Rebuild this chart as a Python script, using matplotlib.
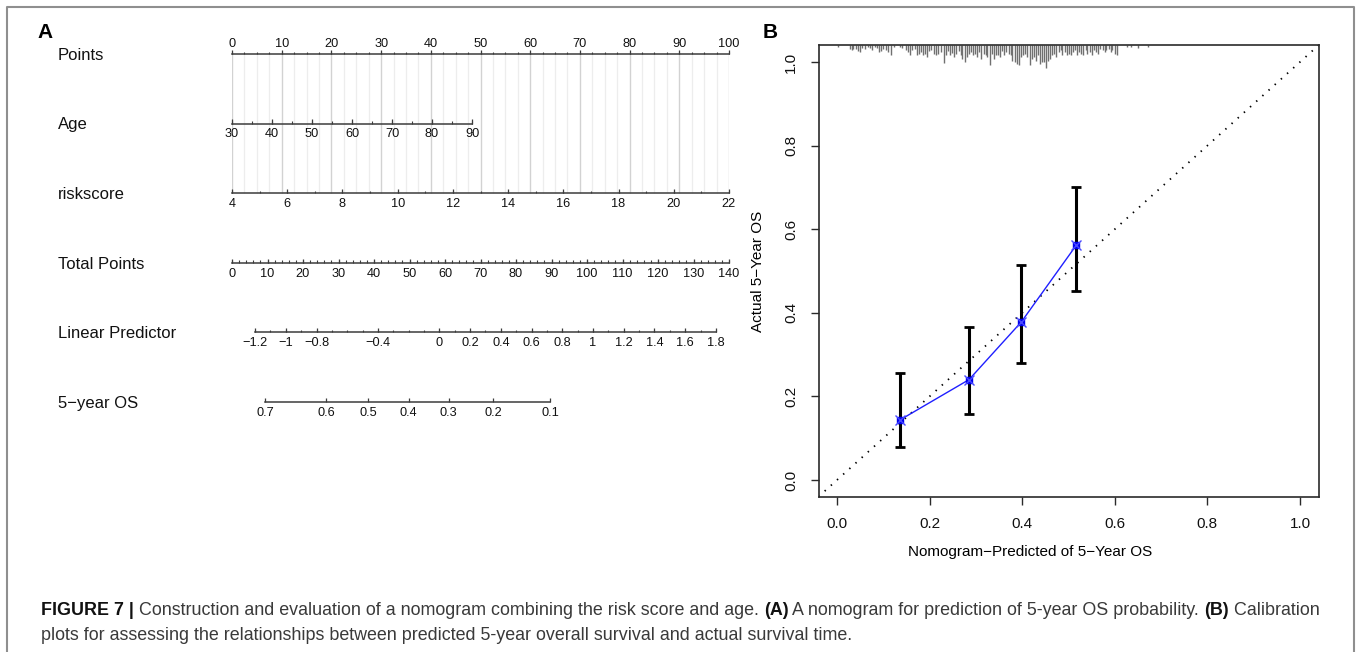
"""Nomogram (A) and 5-year OS calibration plot (B), Figure 7."""
import numpy as np
import matplotlib
matplotlib.use('Agg')
import matplotlib.pyplot as plt
from matplotlib import transforms
from matplotlib.lines import Line2D

plt.rcParams['font.family'] = ['Liberation Sans', 'DejaVu Sans']

W, H = 1360, 652
OUT_PNG = 'out.png'

# ---- panel A: nomogram scales ----
ROW_NAMES = ['Points', 'Age', 'riskscore', 'Total Points', 'Linear Predictor', '5\u2212year OS']
POINTS_TICKS = [0, 10, 20, 30, 40, 50, 60, 70, 80, 90, 100]
AGE_TICKS = [30, 40, 50, 60, 70, 80, 90]
AGE_RANGE = (30, 90)
AGE_MAX_POINTS = 48.3            # points for age 90 (age 30 -> 0)
RISK_TICKS = [4, 6, 8, 10, 12, 14, 16, 18, 20, 22]
RISK_RANGE = (4, 22)
TOTAL_TICKS = [0, 10, 20, 30, 40, 50, 60, 70, 80, 90, 100, 110, 120, 130, 140]
TOTAL_MAX = 140
LP_TICKS = [-1.2, -1, -0.8, -0.4, 0, 0.2, 0.4, 0.6, 0.8, 1, 1.2, 1.4, 1.6, 1.8]
LP_RANGE = (-1.2, 1.8)
LP_TOTAL_AT_ENDS = (6.5, 136.3)  # total points at LP -1.2 and 1.8
OS_TICKS = [0.7, 0.6, 0.5, 0.4, 0.3, 0.2, 0.1]
OS_TOTAL_POS = [9.3, 26.5, 38.3, 49.8, 61.0, 73.5, 89.6]

# ---- panel B: calibration ----
CAL_PRED = [0.135, 0.285, 0.398, 0.517]
CAL_OBS = [0.143, 0.240, 0.378, 0.562]
CAL_LO = [0.080, 0.157, 0.280, 0.452]
CAL_HI = [0.255, 0.367, 0.515, 0.700]

# distribution of predicted values (rug along top)
RUG_X = [0.003, 0.028, 0.032, 0.035, 0.040, 0.045, 0.050, 0.055, 0.060, 0.066,
         0.071, 0.076, 0.081, 0.086, 0.091, 0.095, 0.100, 0.106, 0.111, 0.116,
         0.122, 0.136, 0.141, 0.149, 0.154, 0.158, 0.163, 0.168, 0.173, 0.177,
         0.181, 0.186, 0.191, 0.195, 0.199, 0.204, 0.209, 0.214, 0.219, 0.224,
         0.230, 0.235, 0.240, 0.245, 0.249, 0.253, 0.258, 0.263, 0.267, 0.271,
         0.276, 0.281, 0.285, 0.290, 0.294, 0.299, 0.303, 0.307, 0.312, 0.317,
         0.321, 0.325, 0.330, 0.335, 0.339, 0.343, 0.348, 0.352, 0.357, 0.361,
         0.366, 0.371, 0.375, 0.379, 0.384, 0.389, 0.393, 0.397, 0.402, 0.407,
         0.411, 0.417, 0.421, 0.425, 0.430, 0.434, 0.438, 0.443, 0.447, 0.451,
         0.456, 0.460, 0.464, 0.469, 0.474, 0.479, 0.483, 0.487, 0.492, 0.496,
         0.500, 0.505, 0.510, 0.515, 0.519, 0.523, 0.528, 0.532, 0.537, 0.541,
         0.546, 0.551, 0.555, 0.559, 0.564, 0.569, 0.574, 0.578, 0.582, 0.587,
         0.591, 0.595, 0.600, 0.605, 0.626, 0.636, 0.651, 0.672]
RUG_FREQ = [5, 12, 15, 12, 10, 18, 20, 8, 10, 5,
            8, 14, 6, 8, 20, 16, 10, 15, 20, 28,
            5, 6, 8, 14, 20, 28, 15, 12, 30, 25,
            20, 30, 25, 35, 18, 15, 25, 30, 25, 20,
            52, 28, 18, 30, 22, 35, 25, 18, 30, 40,
            48, 35, 25, 20, 30, 25, 35, 20, 40, 25,
            30, 35, 58, 25, 40, 30, 28, 35, 18, 30,
            20, 25, 30, 45, 50, 55, 58, 35, 30, 25,
            35, 58, 40, 35, 45, 30, 55, 48, 50, 68,
            45, 40, 30, 25, 35, 20, 15, 28, 20, 30,
            25, 28, 20, 15, 30, 20, 25, 30, 15, 25,
            20, 28, 15, 20, 25, 10, 15, 20, 15, 12,
            20, 15, 25, 28, 5, 4, 8, 4]

CAPTION_1 = [('FIGURE 7 |', True),
             (' Construction and evaluation of a nomogram combining the risk score and age. ', False),
             ('(A)', True),
             (' A nomogram for prediction of 5-year OS probability. ', False),
             ('(B)', True),
             (' Calibration', False)]
CAPTION_2 = [('plots for assessing the relationships between predicted 5-year overall survival '
              'and actual survival time.', False)]


def px_rect(x0, y0, x1, y1):
    return [x0 / W, 1 - y1 / H, (x1 - x0) / W, (y1 - y0) / H]


# mappings onto the 0-100 points scale
def age_pts(a):
    return (np.asarray(a, float) - AGE_RANGE[0]) / (AGE_RANGE[1] - AGE_RANGE[0]) * AGE_MAX_POINTS


def risk_pts(r):
    return (np.asarray(r, float) - RISK_RANGE[0]) / (RISK_RANGE[1] - RISK_RANGE[0]) * 100


def total_pts(t):
    return np.asarray(t, float) / TOTAL_MAX * 100


def lp_pts(lp):
    t0, t1 = LP_TOTAL_AT_ENDS
    tot = t0 + (np.asarray(lp, float) - LP_RANGE[0]) / (LP_RANGE[1] - LP_RANGE[0]) * (t1 - t0)
    return total_pts(tot)


def fmt(v):
    s = f'{v:g}'
    return s.replace('-', '\u2212')


def nomo_axis(ax, row, major, labels, minor, above=False):
    line_c = '#3c3c3c'
    allpos = np.concatenate([major, minor]) if len(minor) else major
    ax.plot([allpos.min(), allpos.max()], [row, row], color=line_c, lw=1.1, clip_on=False, zorder=3)
    if len(minor):
        ax.vlines(minor, row - 0.035, row, color=line_c, lw=0.8, clip_on=False, zorder=3)
    ax.vlines(major, row - 0.06, row, color=line_c, lw=0.9, clip_on=False, zorder=3)
    off = 7.5 if above else -7.8
    for x, lab in zip(major, labels):
        ax.annotate(lab, (x, row), xytext=(0, off), textcoords='offset points',
                    ha='center', va='center', fontsize=9.2, color='#111111',
                    annotation_clip=False)


def main():
    fig = plt.figure(figsize=(W / 100, H / 100), dpi=100)

    # outer frame (left, top, right)
    fig.add_artist(Line2D([7 / W, 7 / W, 1354 / W, 1354 / W], [0, 1 - 7 / H, 1 - 7 / H, 0],
                          color='#8f8f8f', lw=1.5))

    # --- panel A ---
    axA = fig.add_axes(px_rect(232, 54, 729, 402))
    axA.set_xlim(0, 100)
    axA.set_ylim(5, 0)
    axA.axis('off')

    # grid behind Points / Age / riskscore rows
    grid_minor = np.arange(0, 100.01, 2.5)
    grid_major = np.array(POINTS_TICKS, float)
    axA.vlines(grid_minor, 0, 2, color='#ededed', lw=0.9, zorder=1)
    axA.vlines(grid_major, 0, 2, color='#d2d2d2', lw=0.9, zorder=1)

    nomo_axis(axA, 0, np.array(POINTS_TICKS, float), [fmt(v) for v in POINTS_TICKS],
              np.arange(0, 100.01, 2.5), above=True)
    nomo_axis(axA, 1, age_pts(AGE_TICKS), [fmt(v) for v in AGE_TICKS],
              age_pts(np.arange(30, 90.01, 5)))
    nomo_axis(axA, 2, risk_pts(RISK_TICKS), [fmt(v) for v in RISK_TICKS],
              risk_pts(np.arange(4, 22.01, 1)))
    nomo_axis(axA, 3, total_pts(TOTAL_TICKS), [fmt(v) for v in TOTAL_TICKS],
              total_pts(np.arange(0, 140.01, 2)))
    nomo_axis(axA, 4, lp_pts(LP_TICKS), [fmt(v) for v in LP_TICKS],
              lp_pts(np.round(np.arange(-1.2, 1.801, 0.1), 2)))
    nomo_axis(axA, 5, total_pts(OS_TOTAL_POS), [fmt(v) for v in OS_TICKS], np.array([]))

    lab_tr = transforms.blended_transform_factory(fig.transFigure, axA.transData)
    for i, name in enumerate(ROW_NAMES):
        axA.text(58 / W, i + 0.02, name, transform=lab_tr, ha='left', va='center',
                 fontsize=12, color='#111111')

    fig.text(45 / W, 1 - 32 / H, 'A', ha='center', va='center', fontsize=15, fontweight='bold')
    fig.text(770 / W, 1 - 32 / H, 'B', ha='center', va='center', fontsize=15, fontweight='bold')

    # --- panel B ---
    axB = fig.add_axes(px_rect(818.5, 45.3, 1318.5, 496.7))
    axB.set_xlim(-0.04, 1.04)
    axB.set_ylim(-0.04, 1.04)
    for sp in axB.spines.values():
        sp.set_color('#2a2a2a')
        sp.set_linewidth(1.2)

    axB.axline((0, 0), (1, 1), color='black', lw=1.3, linestyle=(0, (0.8, 3.8)), zorder=2)

    rug_scale = 0.055 / max(RUG_FREQ)
    rug_h = np.array(RUG_FREQ) * rug_scale
    axB.vlines(RUG_X, 1.04 - rug_h, 1.04, color='#707070', lw=1.0, zorder=2)

    pred = np.array(CAL_PRED)
    obs = np.array(CAL_OBS)
    yerr = [obs - np.array(CAL_LO), np.array(CAL_HI) - obs]
    axB.errorbar(pred, obs, yerr=yerr, fmt='none', ecolor='black', elinewidth=2.2,
                 capsize=3.8, capthick=2.0, zorder=3)
    axB.plot(pred, obs, color='#1f1fff', lw=1.0, zorder=4)
    axB.plot(pred, obs, 's', color='#0000ee', ms=5, zorder=5)
    axB.plot(pred, obs, 'x', color='#4a4aff', ms=7, mew=1.0, zorder=5)

    ticks = [0.0, 0.2, 0.4, 0.6, 0.8, 1.0]
    axB.set_xticks(ticks, [f'{t:.1f}' for t in ticks])
    axB.set_yticks(ticks, [f'{t:.1f}' for t in ticks])
    axB.tick_params(direction='out', length=5.5, width=1.0, color='#2a2a2a',
                    labelsize=11, labelcolor='#111111')
    axB.tick_params(axis='x', pad=9)
    axB.tick_params(axis='y', pad=9)
    for lab in axB.get_yticklabels():
        lab.set_rotation(90)
        lab.set_va('center')

    axB.set_xlabel('Nomogram\u2212Predicted of 5\u2212Year OS', fontsize=11, va='center')
    axB.xaxis.set_label_coords((1030 - 818.5) / 500, (496.7 - 552) / 451.4)
    axB.set_ylabel('Actual 5\u2212Year OS', fontsize=11, va='center')
    axB.yaxis.set_label_coords((758 - 818.5) / 500, 0.5)

    # --- caption ---
    cap = fig.add_axes([0, 0, 1, 1])
    cap.axis('off')
    cap.set_zorder(-1)

    def caption_line(x_px, y_px, parts):
        prev = None
        for s, bold in parts:
            kw = dict(fontsize=12.85, fontweight='bold' if bold else 'normal',
                      color='#111111' if bold else '#3a3a3a', ha='left', va='bottom')
            if prev is None:
                prev = cap.text(x_px / W, 1 - y_px / H, s, transform=fig.transFigure, **kw)
            else:
                prev = cap.annotate(s, xy=(1, 0), xycoords=prev, **kw)

    caption_line(41, 619, CAPTION_1)
    caption_line(41, 644, CAPTION_2)

    fig.savefig(OUT_PNG, dpi=100)
    print(f'Wrote {OUT_PNG}')


if __name__ == '__main__':
    main()
